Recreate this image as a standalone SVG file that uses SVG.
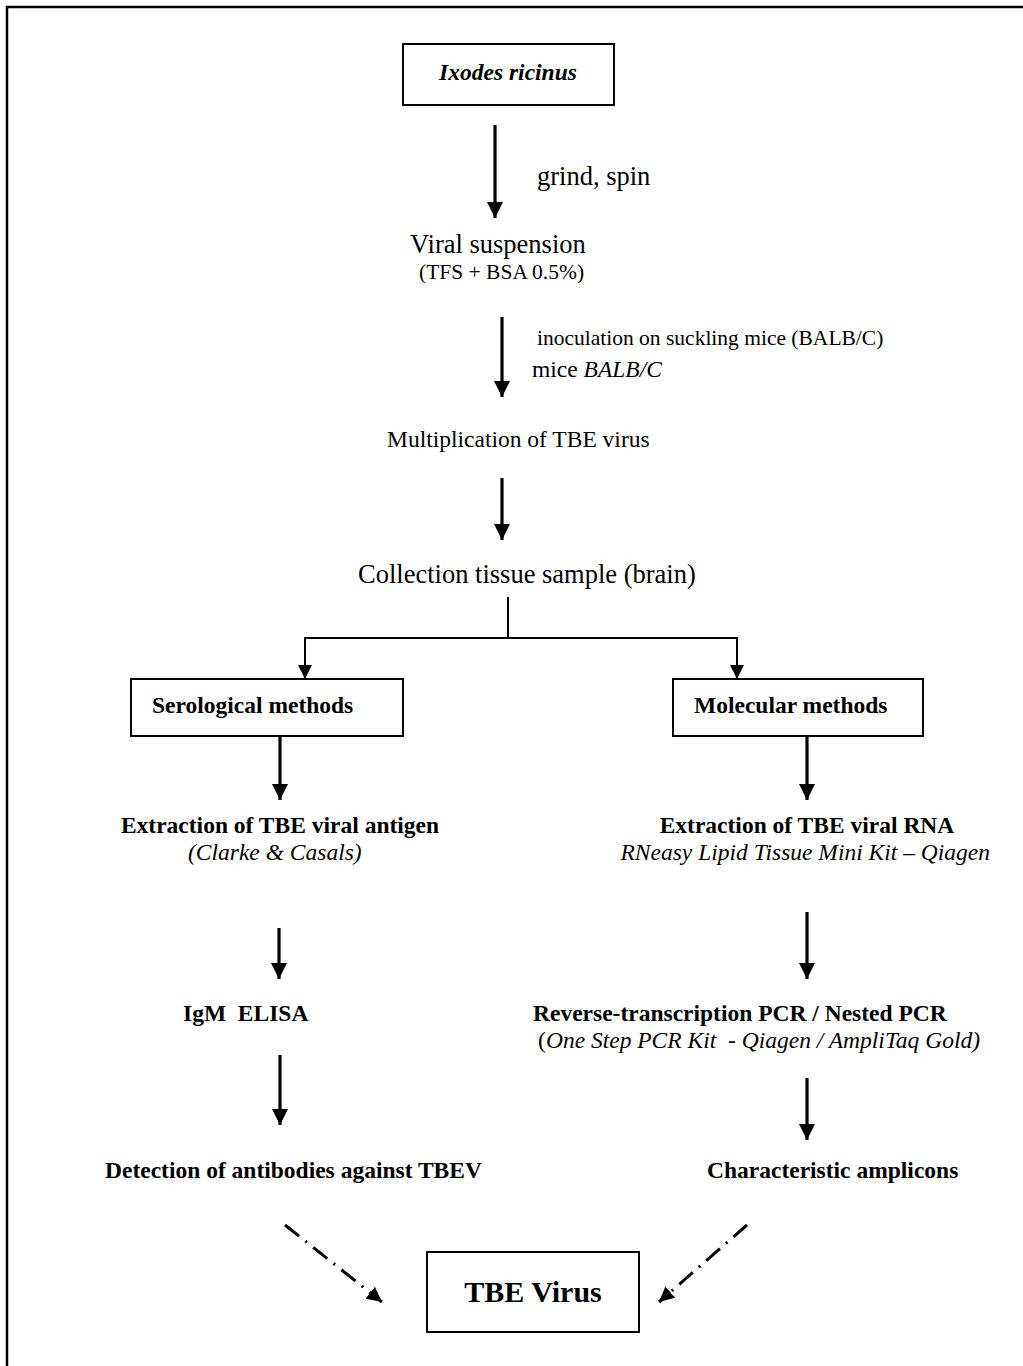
<svg xmlns="http://www.w3.org/2000/svg" width="1023" height="1366" viewBox="0 0 1023 1366">
<defs>
<marker id="ah" viewBox="0 0 10 10" refX="10" refY="5" markerWidth="5" markerHeight="5" markerUnits="strokeWidth" orient="auto"><path d="M0,0 L10,5 L0,10 Z" fill="#000"/></marker>
<marker id="ahs" viewBox="0 0 10 10" refX="10" refY="5" markerWidth="7" markerHeight="7" markerUnits="strokeWidth" orient="auto"><path d="M0,0 L10,5 L0,10 Z" fill="#000"/></marker>
</defs>
<style>
text{font-family:"Liberation Serif","Times New Roman",serif;fill:#000;white-space:pre}
.b{font-weight:bold}
.i{font-style:italic}
.s12{font-size:23.5px}
.s14{font-size:26.5px}
.s11{font-size:21.5px}
.box{fill:#fff;stroke:#000;stroke-width:2}
.arr{stroke:#000;stroke-width:3.2;fill:none;marker-end:url(#ah)}
.con{stroke:#000;stroke-width:2;fill:none}
.cona{stroke:#000;stroke-width:2;fill:none;marker-end:url(#ahs)}
.dash{stroke:#000;stroke-width:3;fill:none;stroke-dasharray:18 8 2 8;marker-end:url(#ah)}
</style>
<rect width="1023" height="1366" fill="#fff"/>
<g id="frame">
<line x1="6" y1="7" x2="1023" y2="7" stroke="#000" stroke-width="2.5"/>
<line x1="7" y1="6" x2="7" y2="1366" stroke="#000" stroke-width="2.5"/>
</g>
<g id="connectors">
<line class="arr" x1="495" y1="125" x2="495" y2="218"/>
<line class="arr" x1="502" y1="317" x2="502" y2="397"/>
<line class="arr" x1="502" y1="478" x2="502" y2="540"/>
<line class="con" x1="508" y1="597" x2="508" y2="638"/>
<polyline class="cona" points="305,638 305,679"/>
<polyline class="cona" points="737,638 737,679"/>
<line class="con" x1="304" y1="638" x2="738" y2="638"/>
<line class="arr" x1="280" y1="736" x2="280" y2="800"/>
<line class="arr" x1="807" y1="736" x2="807" y2="800"/>
<line class="arr" x1="279" y1="928" x2="279" y2="979"/>
<line class="arr" x1="807" y1="912" x2="807" y2="979"/>
<line class="arr" x1="280" y1="1055" x2="280" y2="1125"/>
<line class="arr" x1="807" y1="1078" x2="807" y2="1140"/>
<line class="dash" x1="285" y1="1225" x2="382" y2="1302"/>
<line class="dash" x1="747" y1="1225" x2="659" y2="1302"/>
</g>
<g id="ixodes">
<rect class="box" x="403" y="44" width="211" height="61"/>
<text class="b i s12" x="508" y="80" text-anchor="middle">Ixodes ricinus</text>
</g>
<g id="grind"><text class="s14" x="537" y="185">grind, spin</text></g>
<g id="viral">
<text class="s14" x="410" y="253">Viral suspension</text>
<text class="s11" x="419" y="279">(TFS + BSA 0.5%)</text>
</g>
<g id="inoc">
<text class="s11" x="537" y="345">inoculation on suckling mice (BALB/C)</text>
<text class="s12" x="532" y="377">mice <tspan class="i">BALB/C</tspan></text>
</g>
<g id="multi"><text class="s12" x="387" y="447">Multiplication of TBE virus</text></g>
<g id="collection"><text class="s14" x="358" y="583">Collection tissue sample (brain)</text></g>
<g id="serological">
<rect class="box" x="131" y="679" width="272" height="57"/>
<text class="b s12" x="152" y="713">Serological methods</text>
</g>
<g id="molecular">
<rect class="box" x="673" y="679" width="250" height="57"/>
<text class="b s12" x="694" y="713">Molecular methods</text>
</g>
<g id="antigen">
<text class="b s12" x="280" y="833" text-anchor="middle">Extraction of TBE viral antigen</text>
<text class="i s12" x="188" y="860">(Clarke &amp; Casals)</text>
</g>
<g id="rna">
<text class="b s12" x="807" y="833" text-anchor="middle">Extraction of TBE viral RNA</text>
<text class="i s12" x="990" y="860" text-anchor="end">RNeasy Lipid Tissue Mini Kit – Qiagen</text>
</g>
<g id="elisa"><text class="b s12" x="183" y="1021">IgM  ELISA</text></g>
<g id="pcr">
<text class="b s12" x="533" y="1021">Reverse-transcription PCR / Nested PCR</text>
<text class="s12" x="980" y="1048" text-anchor="end">(<tspan class="i">One Step PCR Kit  - Qiagen / AmpliTaq Gold)</tspan></text>
</g>
<g id="detection"><text class="b s12" x="105" y="1178">Detection of antibodies against TBEV</text></g>
<g id="amplicons"><text class="b s12" x="707" y="1178">Characteristic amplicons</text></g>
<g id="tbe">
<rect class="box" x="427" y="1252" width="212" height="80"/>
<text class="b" style="font-size:30px" x="533" y="1302" text-anchor="middle">TBE Virus</text>
</g>
</svg>
